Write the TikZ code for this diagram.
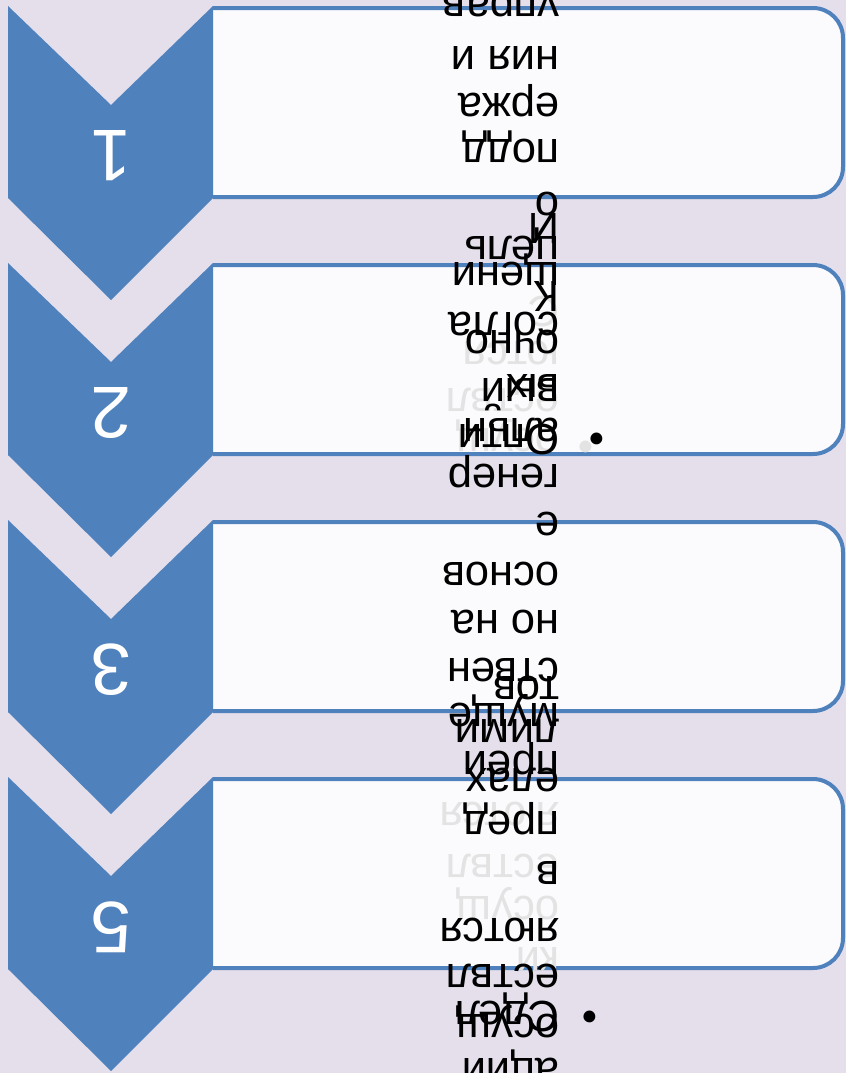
\documentclass[tikz,border=0pt]{standalone}
\usepackage{fontspec}
\setmainfont{Liberation Sans}
\begin{document}
\begin{tikzpicture}[x=0.025cm,y=-0.025cm,
		stepbox/.style={fill=white1,draw=blue1,line width=0.1cm,rounded corners=0.75cm},
		num/.style={text=white,rotate=180,inner sep=0pt,font=\fontsize{52}{52}\selectfont},
		word/.style={rotate=180,inner sep=0pt,anchor=mid west,font=\fontsize{31}{31}\selectfont},
		faded/.style={word,text=gray1}]
		\definecolor{blue1}{HTML}{4F81BD}
		\definecolor{white1}{HTML}{FBFBFE}
		\definecolor{back1}{HTML}{E4DFEB}
		\definecolor{gray1}{HTML}{E3E3E3}
		\useasboundingbox (0,0) rectangle (846,1073);
		\fill[back1] (0,0) rectangle (846,1073);
		\begin{scope}
			\clip (0,0) rectangle (846,1073);
			% boxes and chevrons
			\foreach \top/\n [count=\k] in {6/1, 263/2, 520/3, 777/5}{
					\begin{scope}
						\clip (213,\top-10) rectangle (860,\top+205);
						\draw[stepbox] (160,\top+2) rectangle (843,\top+191);
					\end{scope}
					\fill[blue1] (8,\top) -- (111,\top+99) -- (213,\top) -- (213,\top+192)
					-- (111,\top+294) -- (8,\top+192) -- cycle;
					\node[num] (n\k) at (111,\top+150) {\n};
				}
			% faded text
			\foreach \y/\t [count=\k] in {300/С, 345/ются, 392/ествл, 432/осущ,
					806/яются, 858/ествл, 900/осущ, 951/ки}{
					\node[faded] (f\k) at (560,\y) {\t};
				}
			\node[faded,anchor=center] (fb) at (586,443) {•};
			% text
			\foreach \y/\t [count=\k] in {-3/управ, 50/ния и, 97/ержа, 143/подд, 196/о, 217/И,
					240/цель, 266/щени, 285/К, 316/согла, 334/очно, 378/ых, 382/вый,
					422/альн, 428/Опти, 468/генер, 516/е, 566/основ, 614/но на, 662/ствен,
					680/тов, 707/муще, 723/лими, 755/преи, 772/елах, 815/пред, 865/в,
					922/яются, 968/ествл, 1005/Сдел, 1018/осущ, 1062/ации}{
					\node[word] (t\k) at (560,\y) {\t};
				}
			\node[word,anchor=center] (b1) at (597,435) {•};
			\node[word,anchor=center] (b2) at (590,1013) {•};
		\end{scope}
	\end{tikzpicture}
\end{document}
